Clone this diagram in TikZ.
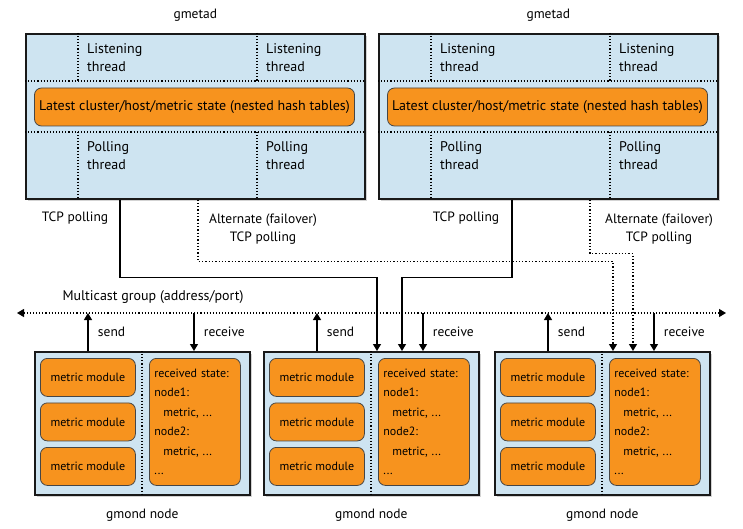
\documentclass[tikz,border=0pt]{standalone}
\usepackage{fontspec}
\setmainfont{PT Sans}
\usetikzlibrary{positioning,arrows.meta,shadows}
\definecolor{gangliaBlue}{RGB}{206,228,241}
\definecolor{gangliaOrange}{RGB}{247,147,30}
\definecolor{gangliaEdge}{RGB}{70,70,70}

\begin{document}
\begin{tikzpicture}[x=1pt, y=-1pt,
    every node/.style={font=\fontsize{13.5}{18}\selectfont, text=black},
    hostbox/.style={draw=black!90, line width=1.6pt, fill=gangliaBlue, anchor=north west, inner sep=0pt,
        drop shadow={opacity=0.35, shadow xshift=2.5pt, shadow yshift=-2.5pt}},
    statebox/.style={draw=gangliaEdge, line width=0.8pt, fill=gangliaOrange, rounded corners=7pt, inner sep=0pt},
    modbox/.style={statebox, anchor=north west, font=\fontsize{12}{19.5}\selectfont},
    sep/.style={dotted, line width=1.1pt},
    thread/.style={anchor=west, align=left, inner sep=0pt, font=\fontsize{14}{18}\selectfont},
    tcp/.style={line width=1.3pt, -{Triangle[width=8pt,length=7pt]}},
    alt/.style={tcp, dotted}]
    \useasboundingbox (0,0) rectangle (743,529);

    % gmetad daemons
    \foreach \g/\x in {1/25, 2/378} {
        \node[hostbox, minimum width=339pt, minimum height=165pt] (gm\g) at (\x,33) {};
        \node[above=8pt of gm\g] (lblgm\g) {gmetad};
        \draw[sep] (\x,81) -- ++(339,0);
        \draw[sep] (\x,132) -- ++(339,0);
        \draw[sep] (\x+53,33) -- (\x+53,81);
        \draw[sep] (\x+53,132) -- (\x+53,198);
        \draw[sep] (\x+232,33) -- (\x+232,81);
        \draw[sep] (\x+232,132) -- (\x+232,198);
        \node[thread] (lsA\g) at (\x+62,58) {Listening\\thread};
        \node[thread] (lsB\g) at (\x+241,58) {Listening\\thread};
        \node[thread] (plA\g) at (\x+62,156) {Polling\\thread};
        \node[thread] (plB\g) at (\x+241,156) {Polling\\thread};
        \node[statebox, minimum width=320pt, minimum height=38pt, font=\fontsize{14}{18}\selectfont] (st\g) at (\x+169.5,107)
            {Latest cluster/host/metric state (nested hash tables)};
    }

    % gmond nodes
    \foreach \n/\x in {1/34, 2/263, 3/494} {
        \node[hostbox, minimum width=215pt, minimum height=143pt] (gn\n) at (\x,351) {};
        \node[below=10pt of gn\n] (lblgn\n) {gmond node};
        \draw[sep] (\x+108,351) -- (\x+108,494);
        \node[modbox, minimum width=95pt, minimum height=38pt] (mmA\n) at (\x+6,358) {metric module};
        \node[modbox, minimum width=95pt, minimum height=38pt] (mmB\n) at (\x+6,402.5) {metric module};
        \node[modbox, minimum width=95pt, minimum height=38pt] (mmC\n) at (\x+6,447) {metric module};
        \node[modbox, minimum height=127pt, text width=81pt, inner xsep=5pt, align=left] (rs\n) at (\x+115,358)
            {received state:\\node1:\\\hspace*{9pt}metric, ...\\node2:\\\hspace*{9pt}metric, ...\\...};
        \draw[tcp] ([xshift=54pt]gn\n.north west) -- ++(0,-38)
            node[midway, right, xshift=6pt] (snd\n) {send};
        \draw[tcp] ([xshift=160pt, yshift=38pt]gn\n.north west) -- ([xshift=160pt]gn\n.north west)
            node[midway, right, xshift=6pt] (rcv\n) {receive};
    }

    % multicast channel
    \coordinate (mcL) at (17,313);
    \coordinate (mcR) at (726,313);
    \draw[sep, {Triangle[width=8pt,length=7pt]}-{Triangle[width=8pt,length=7pt]}] (mcL) -- (mcR);
    \node[font=\fontsize{14}{18}\selectfont] (mclbl) at (153,297) {Multicast group (address/port)};

    % polling paths
    \draw[tcp] ([xshift=95pt]gm1.south west) -- ++(0,78) -| ([xshift=114pt]gn2.north west);
    \draw[tcp] ([xshift=134pt]gm2.south west) -- ++(0,78) -| ([xshift=139pt]gn2.north west);
    \draw[alt] ([xshift=173pt]gm1.south west) -- ++(0,62) -| ([xshift=119pt]gn3.north west);
    \draw[alt] ([xshift=212pt]gm2.south west) -- ++(0,54) -| ([xshift=139pt]gn3.north west);

    \node (tcp1) at (75,218) {TCP polling};
    \node[align=center] (alt1) at (263,229) {Alternate (failover)\\TCP polling};
    \node (tcp2) at (466,218) {TCP polling};
    \node[align=center] (alt2) at (659,229) {Alternate (failover)\\TCP polling};
\end{tikzpicture}
\end{document}
